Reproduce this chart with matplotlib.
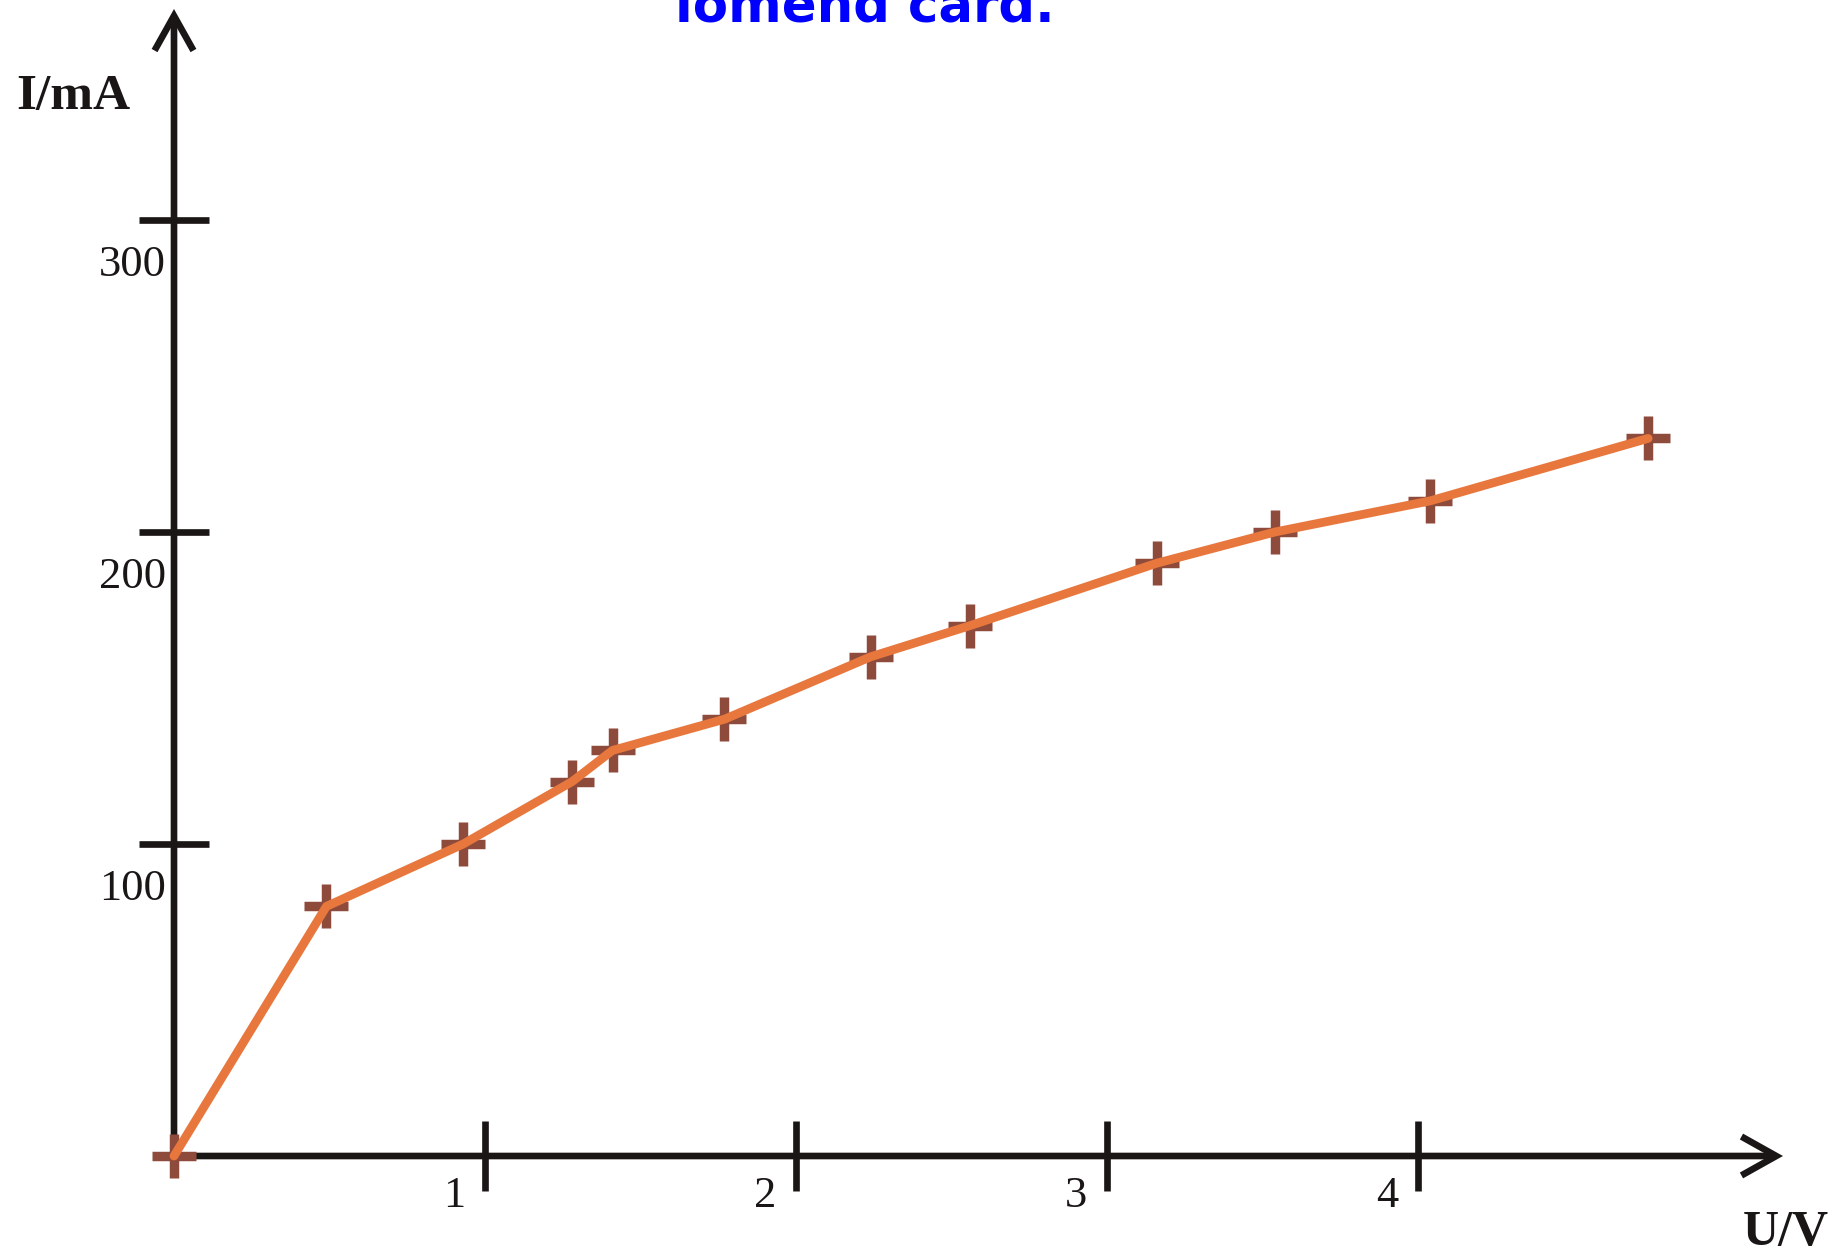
import matplotlib
matplotlib.use("Agg")
import matplotlib.pyplot as plt
from matplotlib.transforms import ScaledTranslation

# Data
U = [0, 0.49, 0.93, 1.28, 1.41, 1.77, 2.24, 2.56, 3.16, 3.54, 4.04, 4.74]
I = [0, 80, 100, 120, 130, 140, 160, 170, 190, 200, 210, 230]
x_ticks = [1, 2, 3, 4]
y_ticks = [100, 200, 300]
x_label = "U/V"
y_label = "I/mA"
top_text = "iomend card."

W, H, DPI = 18.42, 12.56, 100
fig = plt.figure(figsize=(W, H), dpi=DPI)
ax = fig.add_axes([0, 0, 1, 1])
# pixel mapping: origin at (174,1156), 1 V = 311 px, 100 mA = 312 px
ax.set_xlim(-174 / 311, (1842 - 174) / 311)
ax.set_ylim(-(1256 - 1156) / 312 * 100, 1156 / 312 * 100)
ax.patch.set_alpha(0)

axis_color = "#1b1616"
lw_axis = 4.8
x_end = (1783 - 174) / 311
y_end = (1156 - 9) / 312 * 100

for s in ["top", "right"]:
    ax.spines[s].set_visible(False)
ax.spines["left"].set_position(("data", 0))
ax.spines["bottom"].set_position(("data", 0))
for s in ["left", "bottom"]:
    ax.spines[s].set_visible(False)

ax.set_xticks(x_ticks)
ax.set_yticks(y_ticks)
ax.set_xticklabels([])
ax.set_yticklabels([])
ax.tick_params(direction="inout", length=50, width=lw_axis, color=axis_color)

# axis lines with arrow heads
arrow_kw = dict(arrowstyle="->,head_length=25,head_width=14", lw=lw_axis,
                color=axis_color, mutation_scale=1, shrinkA=0, shrinkB=0,
                joinstyle="miter", capstyle="butt")
ax.annotate("", xy=(x_end, 0), xytext=(0, 0), arrowprops=arrow_kw, zorder=2)
ax.annotate("", xy=(0, y_end), xytext=(0, 0), arrowprops=arrow_kw, zorder=2)

serif = ["Liberation Serif", "DejaVu Serif"]
px = 1 / DPI
for v in x_ticks:
    ax.text(v, 0, str(v), transform=ax.transData + ScaledTranslation(-31 * px, -40 * px, fig.dpi_scale_trans),
            ha="center", va="center", fontsize=32, family=serif, color="#1b1616")
for v in y_ticks:
    ax.text(0, v, str(v), transform=ax.transData + ScaledTranslation(-8 * px, -45 * px, fig.dpi_scale_trans),
            ha="right", va="center", fontsize=32, family=serif, color="#1b1616")

# data
ax.plot(U, I, linestyle="none", marker="+", markersize=32, markeredgewidth=6.8,
        color="#8e4b3b", zorder=3, clip_on=False)
ax.plot(U, I, color="#e8773d", linewidth=6.3, zorder=4, solid_joinstyle="round",
        solid_capstyle="round", clip_on=False)

# axis titles
fig.text(73 / 1842, 1 - 97 / 1256, y_label, ha="center", va="center", fontsize=37,
         fontweight="bold", family=serif, color="#1b1616")
fig.text(1786 / 1842, 1 - 1233 / 1256, x_label, ha="center", va="center", fontsize=36,
         fontweight="bold", family=serif, color="#1b1616")

# clipped text at top (cut off in the reference as well)
fig.text(865 / 1842, 1 - 21 / 1256, top_text, ha="center", va="baseline", fontsize=37,
         fontweight="bold", family=["DejaVu Sans"], color="#0000ff")

fig.savefig("out.png", dpi=DPI, facecolor="white")
